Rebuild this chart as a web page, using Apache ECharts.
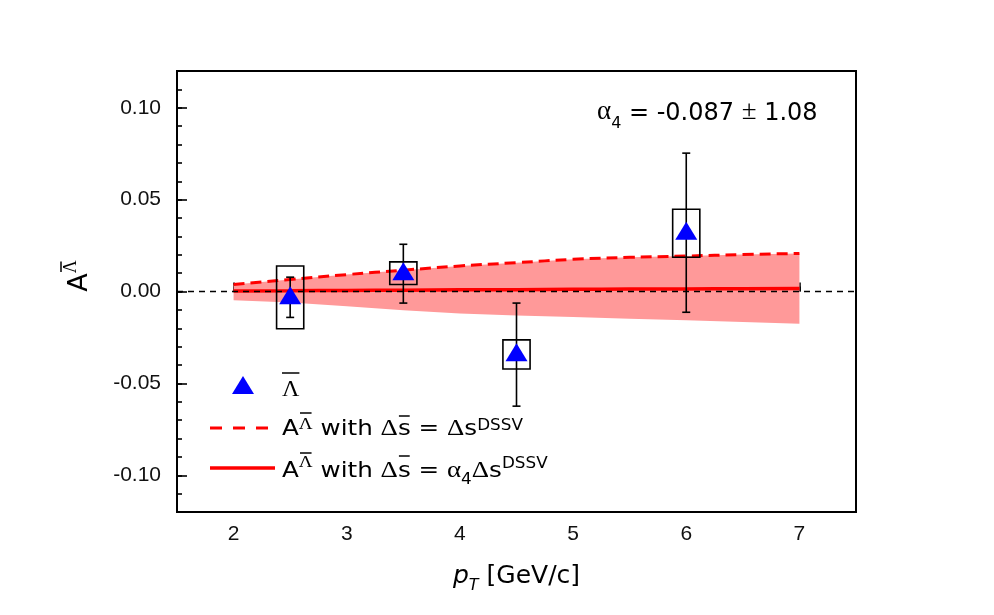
<!DOCTYPE html>
<html><head><meta charset="utf-8">
<script src="https://cdn.jsdelivr.net/npm/echarts@6/dist/echarts.min.js"></script>
<style>html,body{margin:0;padding:0;background:#fff}#c{width:994px;height:615px}</style>
</head><body><div id="c"></div>
<script>
// ---- data ----
const ptX      = [2.5, 3.5, 4.5, 6.0];
const asymVal  = [-0.002, 0.011, -0.033, 0.033];
const statLow  = [-0.0141, -0.0063, -0.0624, -0.0113];
const statHigh = [0.0078, 0.0257, -0.0063, 0.0753];
const sysLow   = [-0.0203, 0.0038, -0.0422, 0.0186];
const sysHigh  = [0.0139, 0.0161, -0.0263, 0.0448];

const curveX     = [2, 2.5, 3, 3.5, 4, 4.5, 5, 5.5, 6, 6.5, 7];
const dssvCurve  = [0.0038, 0.0065, 0.0092, 0.0116, 0.0139, 0.0157, 0.0175, 0.0186, 0.0193, 0.0201, 0.0207];
const bandLow    = [-0.0048, -0.0060, -0.0080, -0.0102, -0.0120, -0.0130, -0.0139, -0.0148, -0.0157, -0.0166, -0.0175];
const alphaCurve = [0.0003, 0.0004, 0.0006, 0.0007, 0.0009, 0.0010, 0.0012, 0.0013, 0.0014, 0.0015, 0.0016];

const annotation = { alpha: '-0.087', err: '1.08' };

// ---- chart ----
const SANS = 'DejaVu Sans', SERIF = 'Liberation Serif', ARIAL = 'Liberation Sans';
const chart = echarts.init(document.getElementById('c'), null, { renderer: 'canvas' });

const mctx = document.createElement('canvas').getContext('2d');
function tw(size, fam, s) { mctx.font = size + 'px "' + fam + '"'; return mctx.measureText(s).width; }

const tickStyle = { color: '#000', width: 1.6 };
const labelStyle = { fontFamily: ARIAL, fontSize: 21, color: '#111' };

// legend rich styles
const legendRich = (lift) => ({
  n:    { fontFamily: SANS, fontSize: 22, color: '#000', verticalAlign: 'bottom', padding: [0, 0, 5, 0] },
  g:    { fontFamily: SERIF, fontSize: 24, color: '#000', verticalAlign: 'bottom', padding: [0, 0, 5, 0] },
  sub:  { fontFamily: SANS, fontSize: 15, color: '#000', verticalAlign: 'bottom', padding: [0, 0, 0, 0] },
  sup:  { fontFamily: SANS, fontSize: 15, color: '#000', verticalAlign: 'bottom', padding: [0, 0, lift, 0] },
  supg: { fontFamily: SERIF, fontSize: 17, color: '#000', verticalAlign: 'bottom', padding: [0, 0, lift, 0] }
});
const tokFont = { n: [22, SANS], g: [24, SERIF], sub: [15, SANS], sup: [15, SANS], supg: [17, SERIF] };

function legendLine(tokens, x0, yMid, sx, lift) {
  const text = tokens.map(t => '{' + t[0] + '|' + t[1] + '}').join('');
  const out = [{ type: 'text', x: x0, y: yMid, scaleX: sx, z: 10,
    style: { text: text, align: 'left', verticalAlign: 'middle', rich: legendRich(lift) } }];
  let acc = 0;
  tokens.forEach(t => {
    const f = tokFont[t[0]];
    const w = tw(f[0], f[1], t[1]);
    if (t[2] != null) {
      const a = x0 + sx * (acc + w * 0.08), b = x0 + sx * (acc + w * 0.92);
      out.push({ type: 'line', z: 10, shape: { x1: a, y1: t[2], x2: b, y2: t[2] }, style: { stroke: '#000', lineWidth: 1.5 } });
    }
    acc += w;
  });
  return out;
}

const line2 = legendLine([['n', 'A'], ['supg', 'Λ', 413], ['n', ' with '], ['g', 'Δ'], ['n', 's', 416],
  ['n', ' = '], ['g', 'Δ'], ['n', 's'], ['sup', 'DSSV']], 282, 431, 1.12, 12);
const line3 = legendLine([['n', 'A'], ['supg', 'Λ', 453], ['n', ' with '], ['g', 'Δ'], ['n', 's', 456],
  ['n', ' = '], ['g', 'α'], ['sub', '4'], ['g', 'Δ'], ['n', 's'], ['sup', 'DSSV']], 282, 471, 1.12, 16);

// y-title geometry (rotated)
const yTA = tw(27, SANS, 'A'), yTL = tw(18, SERIF, 'Λ');
const yTc = 276, yTW = yTA + yTL;
const lamW = tw(24, SERIF, 'Λ');

const option = {
  backgroundColor: '#fff',
  animation: false,
  grid: { left: 177, right: 138, top: 71, bottom: 103, show: true, borderColor: '#000', borderWidth: 2, backgroundColor: 'transparent' },
  xAxis: [
    { type: 'value', min: 1.5, max: 7.5, interval: 0.5, position: 'bottom',
      axisLine: { show: false }, splitLine: { show: false },
      axisTick: { inside: true, length: 5, lineStyle: tickStyle },
      axisLabel: Object.assign({ margin: 12, interval: 0,
        formatter: v => (Math.abs(v - Math.round(v)) < 1e-6 && v > 1.6 && v < 7.4) ? String(Math.round(v)) : '' }, labelStyle),
      name: '{i|p}{s|T}{n| [GeV/c]}', nameLocation: 'middle', nameGap: 52,
      nameTextStyle: { rich: {
        i: { fontFamily: SANS, fontStyle: 'italic', fontSize: 25, color: '#000', verticalAlign: 'bottom', padding: [0, 0, 5, 0] },
        s: { fontFamily: SANS, fontStyle: 'italic', fontSize: 16, color: '#000', verticalAlign: 'bottom', padding: [0, 0, 0, 0] },
        n: { fontFamily: SANS, fontSize: 25, color: '#000', verticalAlign: 'bottom', padding: [0, 0, 5, 0] }
      } }
    },
    { type: 'value', min: 1.5, max: 7.5, splitNumber: 6, position: 'bottom',
      axisLine: { show: false }, splitLine: { show: false },
      axisTick: { inside: true, length: 9, lineStyle: tickStyle },
      axisLabel: { show: false } }
  ],
  yAxis: [
    { type: 'value', min: -0.12, max: 0.12, interval: 0.01, position: 'left',
      axisLine: { show: false }, splitLine: { show: false },
      axisTick: { inside: true, length: 5, lineStyle: tickStyle },
      axisLabel: Object.assign({ margin: 16, interval: 0,
        formatter: v => { const k = Math.round(v * 100); return (k % 5 === 0 && Math.abs(k) <= 10) ? (k / 100).toFixed(2) : ''; } }, labelStyle) },
    { type: 'value', min: -0.12, max: 0.12, splitNumber: 5, position: 'left',
      axisLine: { show: false }, splitLine: { show: false },
      axisTick: { inside: true, length: 10, lineStyle: tickStyle },
      axisLabel: { show: false } }
  ],
  series: [
    { name: 'band', type: 'custom', xAxisIndex: 0, yAxisIndex: 0, z: 1, silent: true,
      data: [[curveX[0], dssvCurve[0]]],
      renderItem: (params, api) => {
        const pts = [];
        for (let i = 0; i < curveX.length; i++) pts.push(api.coord([curveX[i], dssvCurve[i]]));
        for (let i = curveX.length - 1; i >= 0; i--) pts.push(api.coord([curveX[i], bandLow[i]]));
        return { type: 'polygon', shape: { points: pts }, style: { fill: '#ff9999' } };
      } },
    { name: 'dssv', type: 'line', xAxisIndex: 0, yAxisIndex: 0, z: 2, showSymbol: false, smooth: true,
      data: curveX.map((x, i) => [x, dssvCurve[i]]),
      lineStyle: { color: '#ff0000', width: 3, type: [11, 6] } },
    { name: 'alpha4', type: 'line', xAxisIndex: 0, yAxisIndex: 0, z: 3, showSymbol: false, smooth: true,
      data: curveX.map((x, i) => [x, alphaCurve[i]]),
      lineStyle: { color: '#ff0000', width: 3.5 },
      markLine: { silent: true, symbol: 'none', label: { show: false }, z: 4,
        lineStyle: { color: '#000', width: 1.3, type: [6, 5] },
        data: [{ yAxis: 0 }] } },
    { name: 'sys', type: 'custom', xAxisIndex: 0, yAxisIndex: 0, z: 5,
      data: ptX.map((x, i) => [x, sysLow[i], sysHigh[i]]),
      encode: { x: 0, y: [1, 2] },
      renderItem: (params, api) => {
        const x = api.value(0);
        const a = api.coord([x - 0.12, api.value(2)]);
        const b = api.coord([x + 0.12, api.value(1)]);
        return { type: 'rect', shape: { x: a[0], y: a[1], width: b[0] - a[0], height: b[1] - a[1] },
          style: { fill: 'none', stroke: '#000', lineWidth: 1.6 } };
      } },
    { name: 'stat', type: 'custom', xAxisIndex: 0, yAxisIndex: 0, z: 6,
      data: ptX.map((x, i) => [x, statLow[i], statHigh[i]]),
      encode: { x: 0, y: [1, 2] },
      renderItem: (params, api) => {
        const x = api.value(0);
        const t = api.coord([x, api.value(2)]);
        const b = api.coord([x, api.value(1)]);
        const w = 4, st = { stroke: '#000', lineWidth: 1.6 };
        return { type: 'group', children: [
          { type: 'line', shape: { x1: t[0], y1: t[1], x2: b[0], y2: b[1] }, style: st },
          { type: 'line', shape: { x1: t[0] - w, y1: t[1], x2: t[0] + w, y2: t[1] }, style: st },
          { type: 'line', shape: { x1: b[0] - w, y1: b[1], x2: b[0] + w, y2: b[1] }, style: st }
        ] };
      } },
    { name: 'lambdaBar', type: 'scatter', xAxisIndex: 0, yAxisIndex: 0, z: 7,
      symbol: 'triangle', symbolSize: [22, 18],
      itemStyle: { color: '#0000ff', opacity: 1 },
      data: ptX.map((x, i) => [x, asymVal[i]]) }
  ],
  graphic: [
    // y-axis title
    { type: 'text', x: 78, y: yTc, rotation: Math.PI / 2,
      style: { text: '{a|A}{s|Λ}', align: 'center', verticalAlign: 'middle',
        rich: {
          a: { fontFamily: SANS, fontSize: 27, color: '#000', verticalAlign: 'bottom' },
          s: { fontFamily: SERIF, fontSize: 18, color: '#000', verticalAlign: 'bottom', padding: [0, 0, 13, 0] }
        } } },
    { type: 'line', shape: { x1: 61, y1: yTc - yTW / 2 + yTL * 0.1, x2: 61, y2: yTc - yTW / 2 + yTL * 0.9 },
      style: { stroke: '#000', lineWidth: 1.5 } },
    // annotation
    { type: 'text', x: 597, y: 115,
      style: { text: '{g|α}{sub|4}{n| = ' + annotation.alpha + ' }{g|±}{n| ' + annotation.err + '}',
        align: 'left', verticalAlign: 'middle',
        rich: {
          g:   { fontFamily: SERIF, fontSize: 27, color: '#000', verticalAlign: 'bottom', padding: [0, 0, 6, 0] },
          n:   { fontFamily: SANS, fontSize: 24, color: '#000', verticalAlign: 'bottom', padding: [0, 0, 6, 0] },
          sub: { fontFamily: SANS, fontSize: 16, color: '#000', verticalAlign: 'bottom', padding: [0, 0, 0, 0] }
        } } },
    // legend entry 1
    { type: 'polygon', shape: { points: [[232, 394], [243, 376], [254, 394]] }, style: { fill: '#0000ff' } },
    { type: 'text', x: 282, y: 390,
      style: { text: 'Λ', font: '24px "Liberation Serif"', fill: '#000', align: 'left', verticalAlign: 'middle' } },
    { type: 'line', shape: { x1: 282, y1: 373, x2: 282 + lamW, y2: 373 }, style: { stroke: '#000', lineWidth: 1.5 } },
    // legend entry 2
    { type: 'line', shape: { x1: 210, y1: 428, x2: 268, y2: 428 }, style: { stroke: '#ff0000', lineWidth: 3, lineDash: [12, 11] } },
    ...line2,
    // legend entry 3
    { type: 'line', shape: { x1: 210, y1: 468, x2: 275, y2: 468 }, style: { stroke: '#ff0000', lineWidth: 3.5 } },
    ...line3
  ]
};
chart.setOption(option);
</script>
</body></html>
